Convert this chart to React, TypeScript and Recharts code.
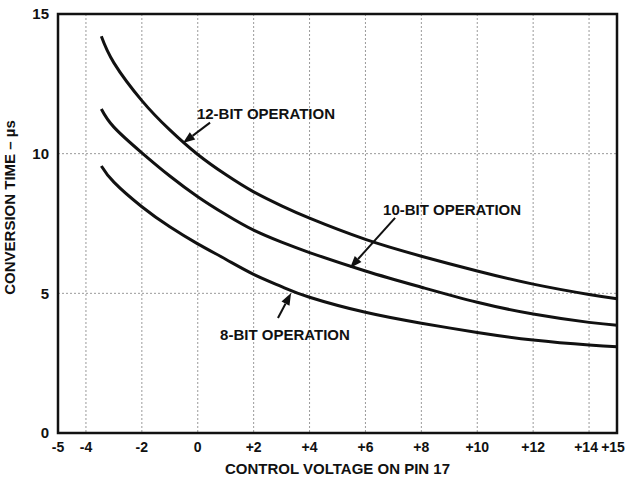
import React from "react"
import {
  LineChart,
  Line,
  XAxis,
  YAxis,
  CartesianGrid,
  ReferenceArea,
  ReferenceLine,
  ReferenceDot,
  Label,
} from "recharts"

// ── Data ──────────────────────────────────────────────────────────────────────
const voltage = [-3.45, -3, -2, -1, 0, 1, 2, 3, 4, 6, 8, 10, 12, 14, 15]
const bit12 = [14.2, 13.25, 11.9, 10.85, 9.97, 9.25, 8.63, 8.13, 7.69, 6.93, 6.33, 5.8, 5.33, 4.96, 4.81]
const bit10 = [11.6, 10.95, 10.03, 9.2, 8.46, 7.82, 7.26, 6.83, 6.46, 5.8, 5.22, 4.68, 4.26, 3.96, 3.86]
const bit8 = [9.56, 8.98, 8.1, 7.38, 6.77, 6.22, 5.68, 5.24, 4.86, 4.32, 3.93, 3.6, 3.33, 3.15, 3.09]

const xTicks = [-5, -4, -2, 0, 2, 4, 6, 8, 10, 12, 14, 15]
const yTicks = [0, 5, 10, 15]

// annotation text positions and arrows, in data units
const notes = [
  { text: "12-BIT OPERATION", x: 2.44, y: 11.42 },
  { text: "10-BIT OPERATION", x: 9.1, y: 7.98 },
  { text: "8-BIT OPERATION", x: 3.12, y: 3.51 },
]
const arrows = [
  { from: [0.44, 11.11], to: [-0.53, 10.38] },
  { from: [7.06, 7.7], to: [5.45, 5.91] },
  { from: [2.87, 4.12], to: [3.34, 5.01] },
]

const rows = voltage.map((v, i) => ({ v, b12: bit12[i], b10: bit10[i], b8: bit8[i] }))

const FONT = "'Liberation Sans', Arial, sans-serif"
const fmtX = (v: number) => (v > 0 ? `+${v}` : `${v}`)

// x tick, the last two nudged left so they stay apart and on the page
const XTick = (props: any) => {
  const { x, y, payload } = props
  const dx = payload.value === 15 ? -4 : payload.value === 14 ? -3 : 0
  return (
    <text
      x={x + dx}
      y={y}
      dy="0.75em"
      textAnchor="middle"
      fill="#111"
      fontSize={14}
      fontWeight={700}
      fontFamily={FONT}
    >
      {fmtX(payload.value)}
    </text>
  )
}

// arrow shaft + filled head, drawn from the scaled segment ends
const ArrowShape = (props: any) => {
  const { x1, y1, x2, y2 } = props
  if (x1 == null) return null
  const ang = Math.atan2(y2 - y1, x2 - x1)
  const len = 12
  const w = 4.5
  const bx = x2 - len * Math.cos(ang)
  const by = y2 - len * Math.sin(ang)
  const px = -Math.sin(ang) * w
  const py = Math.cos(ang) * w
  return (
    <g>
      <line x1={x1} y1={y1} x2={bx} y2={by} stroke="#111" strokeWidth={2} />
      <polygon
        points={`${x2},${y2} ${bx + px},${by + py} ${bx - px},${by - py}`}
        fill="#111"
      />
    </g>
  )
}

export default function App() {
  return (
    <div style={{ position: "absolute", left: 0, top: 0, background: "#fff" }}>
      <LineChart
        width={626}
        height={477}
        data={rows}
        margin={{ top: 14, right: 9, bottom: 0, left: 0 }}
      >
        <CartesianGrid stroke="#9a9a9a" strokeDasharray="2 2" strokeWidth={1} />
        <XAxis
          dataKey="v"
          type="number"
          domain={[-5, 15]}
          ticks={xTicks}
          interval={0}
          height={44}
          axisLine={false}
          tickLine={false}
          tickSize={0}
          tickMargin={8}
          tick={<XTick />}
        >
          <Label
            value="CONTROL VOLTAGE ON PIN 17"
            position="insideBottom"
            offset={3}
            style={{ fill: "#111", fontSize: 15, fontWeight: 700, fontFamily: FONT }}
          />
        </XAxis>
        <YAxis
          type="number"
          domain={[0, 15]}
          ticks={yTicks}
          interval={0}
          width={58}
          axisLine={false}
          tickLine={false}
          tickSize={0}
          tickMargin={9}
          tick={{ fill: "#111", fontSize: 15, fontWeight: 700, fontFamily: FONT }}
        >
          <Label
            value="CONVERSION TIME – µs"
            angle={-90}
            position="insideLeft"
            offset={10}
            dy={-16}
            style={{ textAnchor: "middle", fill: "#111", fontSize: 15, fontWeight: 700, fontFamily: FONT }}
          />
        </YAxis>
        <ReferenceArea
          x1={-5}
          x2={15}
          y1={0}
          y2={15}
          fill="none"
          fillOpacity={0}
          stroke="#111"
          strokeWidth={2.5}
          ifOverflow="visible"
        />
        <Line type="natural" dataKey="b12" stroke="#111" strokeWidth={3} dot={false} isAnimationActive={false} />
        <Line type="natural" dataKey="b10" stroke="#111" strokeWidth={3} dot={false} isAnimationActive={false} />
        <Line type="natural" dataKey="b8" stroke="#111" strokeWidth={3} dot={false} isAnimationActive={false} />
        {arrows.map((a, i) => (
          <ReferenceLine
            key={`a${i}`}
            segment={[
              { x: a.from[0], y: a.from[1] },
              { x: a.to[0], y: a.to[1] },
            ]}
            shape={ArrowShape}
            ifOverflow="visible"
          />
        ))}
        {notes.map((n, i) => (
          <ReferenceDot
            key={`n${i}`}
            x={n.x}
            y={n.y}
            r={0}
            fill="none"
            stroke="none"
            ifOverflow="visible"
          >
            <Label
              value={n.text}
              position="center"
              style={{ fill: "#111", fontSize: 15, fontWeight: 700, fontFamily: FONT }}
            />
          </ReferenceDot>
        ))}
      </LineChart>
    </div>
  )
}
